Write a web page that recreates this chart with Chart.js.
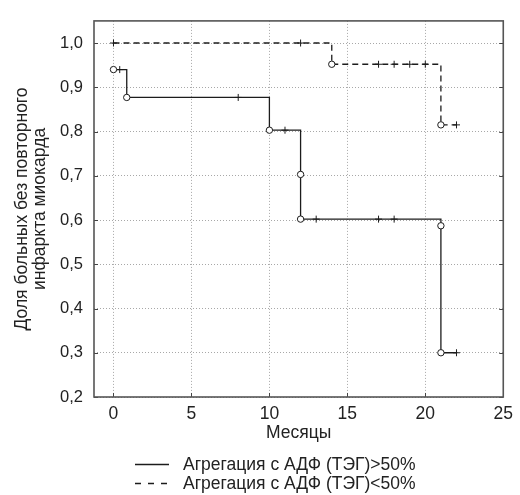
<!DOCTYPE html>
<html>
<head>
<meta charset="utf-8">
<script src="https://cdn.jsdelivr.net/npm/chart.js@4"></script>
<style>
  html, body { margin: 0; padding: 0; background: #fff; }
  #wrap { width: 520px; height: 495px; position: relative; }
</style>
</head>
<body>
<div id="wrap"><canvas id="c" width="520" height="495"></canvas></div>
<script>
// ---- Data ----
const xTicks = [0, 5, 10, 15, 20, 25];
const yTicks = [0.2, 0.3, 0.4, 0.5, 0.6, 0.7, 0.8, 0.9, 1.0];

const seriesLabels = ['Агрегация с АДФ (ТЭГ)>50%', 'Агрегация с АДФ (ТЭГ)<50%'];

// Group ">50%" (solid)
const hiStepTimes = [0, 0.85, 10, 12, 21];
const hiStepSurv  = [0.94, 0.877, 0.803, 0.602, 0.30];
const hiEndTime   = 22;
const hiEventX    = [0, 0.85, 10, 12, 12, 21, 21];
const hiEventY    = [0.94, 0.877, 0.803, 0.703, 0.602, 0.587, 0.30];
const hiCensX     = [0.4, 8, 11, 13, 17, 18, 22];
const hiCensY     = [0.94, 0.877, 0.803, 0.602, 0.602, 0.602, 0.30];

// Group "<50%" (dashed)
const loStepTimes = [0, 14, 21];
const loStepSurv  = [1.0, 0.952, 0.815];
const loEndTime   = 22;
const loEventX    = [14, 21];
const loEventY    = [0.952, 0.815];
const loCensX     = [0, 12, 17, 18, 19, 20, 22];
const loCensY     = [1.0, 1.0, 0.952, 0.952, 0.952, 0.952, 0.815];

// ---- Helpers ----
function stepPoints(times, surv, end) {
  const pts = [];
  for (let i = 0; i < times.length; i++) {
    if (i > 0) pts.push({x: times[i], y: surv[i - 1]});
    pts.push({x: times[i], y: surv[i]});
  }
  pts.push({x: end, y: surv[surv.length - 1]});
  return pts;
}
function zipPts(xs, ys) { return xs.map((x, i) => ({x: x, y: ys[i]})); }

const FONT = '"Liberation Sans", Arial, Helvetica, sans-serif';
const TXT = '#222';
const LINE = '#1c1c1c';

const eventStyle = {
  showLine: false, pointStyle: 'circle', pointRadius: 3.2,
  pointBackgroundColor: '#fff', pointBorderColor: LINE, pointBorderWidth: 1, order: 0
};
const censStyle = {
  showLine: false, pointStyle: 'cross', pointRadius: 3.5,
  pointBorderColor: LINE, pointBorderWidth: 1, order: 0
};

const framePlugin = {
  id: 'frame',
  afterDraw(chart) {
    const {ctx, chartArea: a, scales} = chart;
    ctx.save();
    // inward tick marks
    ctx.strokeStyle = '#444';
    ctx.lineWidth = 1;
    ctx.beginPath();
    yTicks.forEach(v => {
      const py = Math.round(scales.y.getPixelForValue(v)) + 0.5;
      ctx.moveTo(a.left, py); ctx.lineTo(a.left + 4, py);
      ctx.moveTo(a.right - 4, py); ctx.lineTo(a.right, py);
    });
    xTicks.forEach(v => {
      const px = Math.round(scales.x.getPixelForValue(v)) + 0.5;
      ctx.moveTo(px, a.bottom); ctx.lineTo(px, a.bottom - 4);
    });
    ctx.stroke();
    // frame
    ctx.strokeStyle = '#555';
    ctx.lineWidth = 1.6;
    ctx.strokeRect(a.left, a.top, a.right - a.left, a.bottom - a.top);

    // legend
    const lx0 = a.left + 41, lx1 = a.left + 75, tx = a.left + 89;
    const rows = [464, 483];
    const lineSets = [chart.data.datasets[4], chart.data.datasets[5]];
    ctx.font = '17.5px ' + FONT;
    ctx.textBaseline = 'middle';
    ctx.textAlign = 'left';
    rows.forEach((ry, i) => {
      const ds = lineSets[i];
      ctx.strokeStyle = ds.borderColor;
      ctx.lineWidth = 1.4;
      ctx.setLineDash(i === 0 ? [] : [6, 7]);
      ctx.beginPath();
      ctx.moveTo(lx0, ry + 0.5); ctx.lineTo(lx1, ry + 0.5);
      ctx.stroke();
      ctx.setLineDash([]);
      ctx.fillStyle = TXT;
      ctx.fillText(ds.label, tx, ry + 1);
    });
    ctx.restore();
  }
};

new Chart(document.getElementById('c'), {
  type: 'scatter',
  data: {
    datasets: [
      Object.assign({label: 'hi events', data: zipPts(hiEventX, hiEventY)}, eventStyle),
      Object.assign({label: 'hi censored', data: zipPts(hiCensX, hiCensY)}, censStyle),
      Object.assign({label: 'lo events', data: zipPts(loEventX, loEventY)}, eventStyle),
      Object.assign({label: 'lo censored', data: zipPts(loCensX, loCensY)}, censStyle),
      {
        label: seriesLabels[0], data: stepPoints(hiStepTimes, hiStepSurv, hiEndTime),
        showLine: true, borderColor: LINE, borderWidth: 1.3, pointRadius: 0, tension: 0, order: 1
      },
      {
        label: seriesLabels[1], data: stepPoints(loStepTimes, loStepSurv, loEndTime),
        showLine: true, borderColor: LINE, borderWidth: 1.3, borderDash: [6, 4], pointRadius: 0, tension: 0, order: 1
      }
    ]
  },
  options: {
    responsive: false,
    animation: false,
    devicePixelRatio: 1,
    layout: { padding: { top: 13, right: 12, left: 0, bottom: 0 } },
    plugins: { legend: { display: false }, tooltip: { enabled: false } },
    scales: {
      x: {
        type: 'linear', min: -1.25, max: 25,
        afterBuildTicks: s => { s.ticks = xTicks.map(v => ({value: v})); },
        afterFit: s => { s.height = 98; },
        grid: { color: '#a8a8a8', lineWidth: 1, drawTicks: false },
        border: { display: false, dash: [1, 2] },
        ticks: { color: TXT, font: { family: FONT, size: 17.5 }, padding: 7, maxRotation: 0,
                 callback: v => String(v) },
        title: { display: true, text: 'Месяцы', color: TXT, font: { family: FONT, size: 17.5 },
                 padding: { top: 0, bottom: 51 } }
      },
      y: {
        type: 'linear', min: 0.2, max: 1.05,
        afterBuildTicks: s => { s.ticks = yTicks.map(v => ({value: v})); },
        afterFit: s => { s.width = 94; },
        grid: { color: '#a8a8a8', lineWidth: 1, drawTicks: false },
        border: { display: false, dash: [1, 2] },
        ticks: { color: TXT, font: { family: FONT, size: 16.5 }, padding: 11,
                 callback: v => Number(v).toFixed(1).replace('.', ',') },
        title: { display: true, text: ['Доля больных без повторного', 'инфаркта миокарда'],
                 color: TXT, font: { family: FONT, size: 17.5, lineHeight: 1.05 }, padding: { top: 13, bottom: 0 } }
      }
    }
  },
  plugins: [framePlugin]
});
</script>
</body>
</html>
